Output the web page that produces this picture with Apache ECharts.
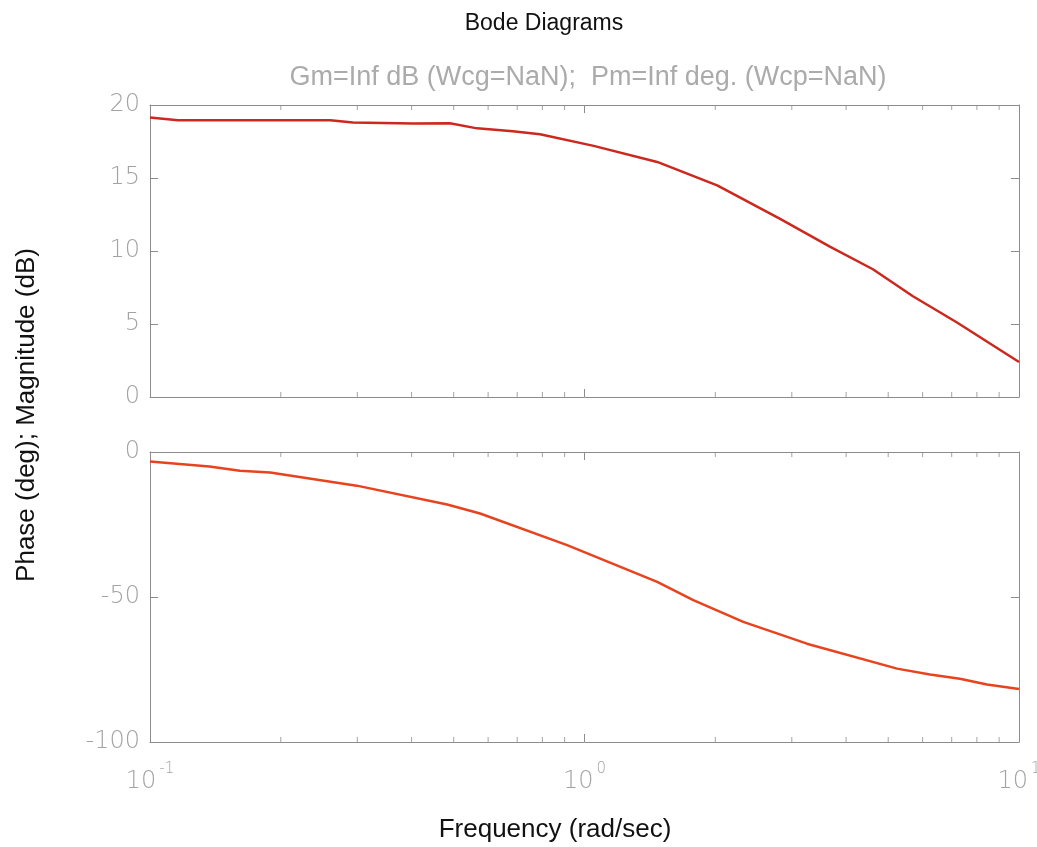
<!DOCTYPE html>
<html>
<head>
<meta charset="utf-8">
<script src="https://cdn.jsdelivr.net/npm/echarts@6/dist/echarts.min.js"></script>
<style>
  html, body { margin: 0; padding: 0; background: #fff; }
  #main { width: 1037px; height: 847px; }
</style>
</head>
<body>
<div id="main"></div>
<script>
// values
const magFreq = [0.1, 0.116, 0.26, 0.293, 0.403, 0.49, 0.566, 0.684, 0.79, 1.05, 1.47, 2.02, 2.82, 3.67, 4.61, 5.7, 7.2, 10];
const magDb = [19.14, 18.95, 18.95, 18.8, 18.73, 18.75, 18.4, 18.2, 18.0, 17.2, 16.1, 14.5, 12.2, 10.3, 8.75, 6.9, 5.1, 2.4];

const phaseFreq = [0.1, 0.137, 0.161, 0.189, 0.299, 0.483, 0.575, 0.912, 1.47, 1.78, 2.32, 3.25, 5.24, 6.24, 7.31, 8.44, 10];
const phaseDeg = [-3.3, -5.0, -6.5, -7.1, -11.6, -18.1, -21.2, -32.1, -44.8, -51.1, -58.6, -66.1, -74.7, -76.7, -78.2, -80.2, -81.7];

const minorTicks = [0.2, 0.3, 0.4, 0.5, 0.6, 0.7, 0.8, 0.9, 2, 3, 4, 5, 6, 7, 8, 9];
const magTicks = [0, 20, 5];
const phaseTicks = [-100, 0, 50];

const frame = '#8c8c8c';
const labelColor = '#a3a3a3';
const font = 'Liberation Sans';
const numFont = 'DejaVu Sans';

const chart = echarts.init(document.getElementById('main'));

function xAx(grid, pos, labels) {
  return {
    type: 'log', logBase: 10, gridIndex: grid, position: pos,
    min: 0.1, max: 10,
    axisLine: { show: true, onZero: false, lineStyle: { color: frame, width: 1 } },
    axisTick: { show: true, inside: true, length: 8, lineStyle: { color: frame } },
    splitLine: { show: false },
    axisLabel: labels ? {
      show: true, margin: 20, color: labelColor,
      formatter: v => '{b|10}{s|' + Math.round(Math.log10(v)) + '}',
      rich: {
        b: { fontSize: 24, fontFamily: numFont, fontWeight: 200, color: labelColor, verticalAlign: 'bottom', lineHeight: 32 },
        s: { fontSize: 15, fontFamily: numFont, fontWeight: 200, color: labelColor, verticalAlign: 'top', lineHeight: 32, padding: [0, 0, 0, 3] }
      }
    } : { show: false }
  };
}

function yAx(grid, pos, t, labels) {
  return {
    type: 'value', gridIndex: grid, position: pos,
    min: t[0], max: t[1], interval: t[2],
    axisLine: { show: true, onZero: false, lineStyle: { color: frame, width: 1 } },
    axisTick: { show: true, inside: true, length: 8, lineStyle: { color: frame } },
    splitLine: { show: false },
    axisLabel: labels ? { show: true, fontSize: 24, fontFamily: numFont, fontWeight: 200, color: labelColor, margin: 10 } : { show: false }
  };
}

function minorSeries(xi, yi, yv, off) {
  return {
    type: 'scatter', xAxisIndex: xi, yAxisIndex: yi, silent: true,
    symbol: 'rect', symbolSize: [1, 5], symbolOffset: [0, off],
    itemStyle: { color: frame }, clip: false, z: 1,
    data: minorTicks.map(f => [f, yv])
  };
}

chart.setOption({
  animation: false,
  title: [
    { text: 'Bode Diagrams', left: 539, top: 7, textAlign: 'center',
      textStyle: { fontSize: 23, fontWeight: 'normal', color: '#111', fontFamily: font } },
    { text: 'Gm=Inf dB (Wcg=NaN);  Pm=Inf deg. (Wcp=NaN)', left: 583, top: 59, textAlign: 'center',
      textStyle: { fontSize: 27, fontWeight: 'normal', color: '#ababab', fontFamily: font } }
  ],
  graphic: [
    { type: 'text', x: 27, y: 415, rotation: Math.PI / 2,
      style: { text: 'Phase (deg); Magnitude (dB)', fontSize: 26, fontFamily: font, fill: '#111',
        textAlign: 'center', textVerticalAlign: 'middle' } },
    { type: 'text', x: 555, y: 830,
      style: { text: 'Frequency (rad/sec)', fontSize: 26, fontFamily: font, fill: '#111',
        textAlign: 'center', textVerticalAlign: 'middle' } }
  ],
  grid: [
    { left: 150, right: 18, top: 105, height: 292, outerBoundsMode: 'none' },
    { left: 150, right: 18, top: 452, height: 290, outerBoundsMode: 'none' }
  ],
  xAxis: [
    xAx(0, 'bottom', false),
    xAx(0, 'top', false),
    xAx(1, 'bottom', true),
    xAx(1, 'top', false)
  ],
  yAxis: [
    yAx(0, 'left', magTicks, true),
    yAx(0, 'right', magTicks, false),
    yAx(1, 'left', phaseTicks, true),
    yAx(1, 'right', phaseTicks, false)
  ],
  series: [
    { type: 'line', xAxisIndex: 0, yAxisIndex: 0, showSymbol: false, z: 3,
      lineStyle: { color: '#cc281e', width: 2.5 },
      data: magFreq.map((f, i) => [f, magDb[i]]) },
    { type: 'line', xAxisIndex: 2, yAxisIndex: 2, showSymbol: false, z: 3,
      lineStyle: { color: '#e8431f', width: 2.5 },
      data: phaseFreq.map((f, i) => [f, phaseDeg[i]]) },
    minorSeries(0, 0, magTicks[0], -2.5),
    minorSeries(0, 0, magTicks[1], 2.5),
    minorSeries(2, 2, phaseTicks[0], -2.5),
    minorSeries(2, 2, phaseTicks[1], 2.5)
  ]
});
</script>
</body>
</html>
